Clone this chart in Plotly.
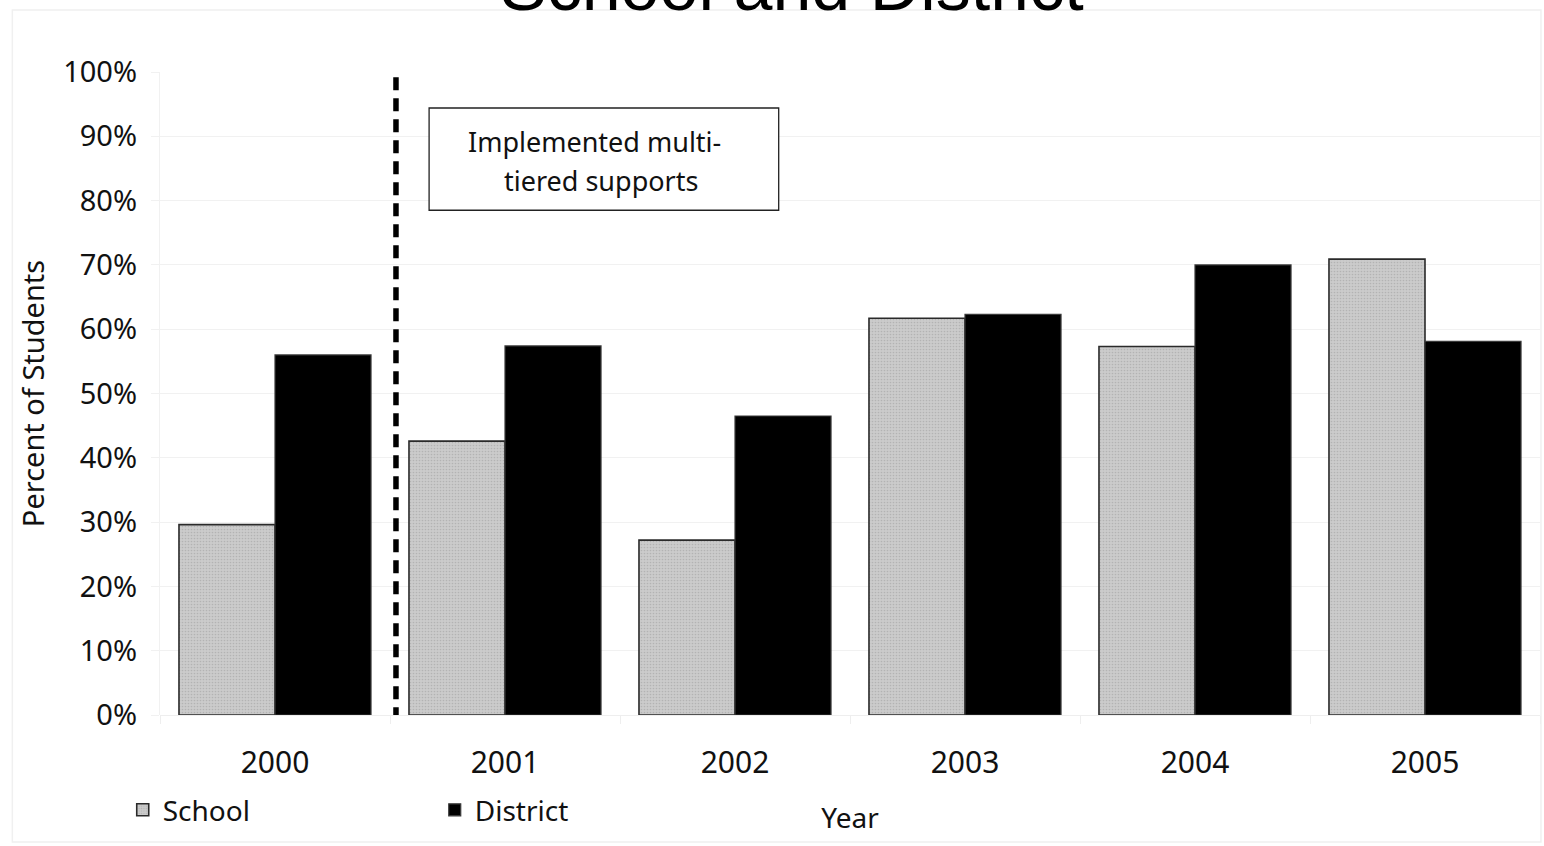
import plotly.graph_objects as go

# Percent of students by year, school vs. district
years = ["2000", "2001", "2002", "2003", "2004", "2005"]
school = [29.6, 42.6, 27.2, 61.7, 57.3, 70.9]
district = [56.0, 57.4, 46.5, 62.3, 70.0, 58.1]
y_ticks = [0, 10, 20, 30, 40, 50, 60, 70, 80, 90, 100]
y_tick_labels = ["0%", "10%", "20%", "30%", "40%", "50%", "60%", "70%", "80%", "90%", "100%"]

FONT = "Noto Sans"

fig = go.Figure()
fig.add_trace(go.Bar(
    name="School", x=years, y=school,
    marker=dict(
        color="#c8c8c8",
        line=dict(color="#2a2a2a", width=1.6),
        pattern=dict(shape=".", bgcolor="#cbcbcb", fgcolor="#9c9c9c", size=3, solidity=0.25),
    ),
))
fig.add_trace(go.Bar(
    name="District", x=years, y=district,
    marker=dict(color="#000000", line=dict(color="#3a3a3a", width=1.2)),
))

# Intervention marker between 2000 and 2001
fig.add_shape(type="line", xref="x", yref="y", x0=0.526, x1=0.526, y0=-0.8, y1=99.4,
              line=dict(color="#000000", width=5.5, dash="13px,8px"))
fig.add_shape(type="rect", xref="x", yref="y", x0=0.67, x1=2.19, y0=78.5, y1=94.4,
              line=dict(color="#222222", width=1.3), fillcolor="white")
fig.add_annotation(xref="x", yref="y", x=1.387, y=89.2, showarrow=False,
                   text="Implemented multi-",
                   font=dict(family=FONT, size=27, color="#111111"))
fig.add_annotation(xref="x", yref="y", x=1.417, y=83.2, showarrow=False,
                   text="tiered supports",
                   font=dict(family=FONT, size=27, color="#111111"))

# Chart-area outline
fig.add_shape(type="rect", xref="paper", yref="paper", x0=-0.107, x1=1.0007, y0=-0.1975, y1=1.0964,
              line=dict(color="#f0f0f0", width=1.5), layer="below")

# Title, running off the top edge of the chart area
fig.add_annotation(xref="paper", yref="paper", x=0.458, xanchor="center", y=1.0, yanchor="bottom",
                   yshift=45, showarrow=False, text="School and District",
                   font=dict(family="Liberation Sans, Arial", size=70, color="#000000"))

fig.update_layout(
    width=1544, height=846,
    margin=dict(l=160, r=4, t=72, b=131, autoexpand=False),
    paper_bgcolor="white", plot_bgcolor="white",
    barmode="group", bargap=0.165, bargroupgap=0,
    font=dict(family=FONT, color="#111111"),
    showlegend=True,
    legend=dict(orientation="h", x=-0.027, xanchor="left", y=-0.109, yanchor="top",
                font=dict(family=FONT, size=28, color="#111111"),
                entrywidth=267, entrywidthmode="pixels", traceorder="normal",
                bgcolor="rgba(0,0,0,0)"),
    xaxis=dict(
        tickfont=dict(family=FONT, size=30, color="#111111"),
        showgrid=False, showline=False, zeroline=False,
        ticks="outside", tickson="boundaries", ticklen=8, tickcolor="#eeeeee",
        ticklabelstandoff=27,
        title=dict(text="Year", font=dict(family=FONT, size=28, color="#111111"), standoff=27),
    ),
    yaxis=dict(
        range=[0, 100], tickvals=y_ticks, ticktext=y_tick_labels,
        tickfont=dict(family=FONT, size=29, color="#111111"),
        showgrid=True, gridcolor="#f1f1f1", gridwidth=1.3,
        showline=True, linecolor="#f1f1f1", linewidth=1.3,
        zeroline=True, zerolinecolor="#eeeeee", zerolinewidth=1.3,
        ticks="outside", ticklen=8, tickcolor="#f1f1f1", ticklabelstandoff=8,
        title=dict(text="Percent of Students", font=dict(family=FONT, size=29, color="#111111"), standoff=10),
    ),
)

fig.write_html("out.html")
